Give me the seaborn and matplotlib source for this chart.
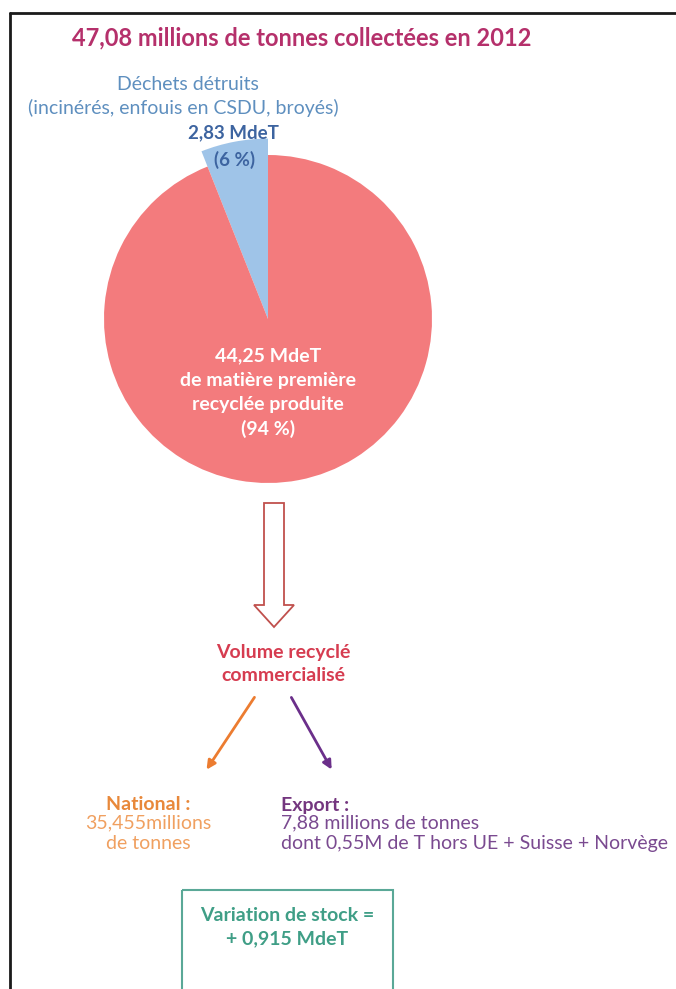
import numpy as np
import pandas as pd
import seaborn as sns
import matplotlib.pyplot as plt
from matplotlib.patches import FancyArrow, Rectangle

# données (millions de tonnes)
parts = ['Déchets détruits', 'Matière première recyclée']
tonnes = [2.83, 44.25]
pourcents = [6, 94]
total = 47.08
annee = 2012
national = 35.455
export = 7.88
hors_ue = 0.55
stock = 0.915

sns.set_theme(style='white')
plt.rcParams['font.family'] = ['Lato', 'DejaVu Sans']

W, H = 676, 989
fig = plt.figure(figsize=(W / 100, H / 100), dpi=100)

fmt = lambda v: f'{v:.2f}'.replace('.', ',')

# camembert (dessiné en premier, les textes passent par-dessus)
cx, cy, r = 268, 319, 164
S = 2.6 * r
axp = fig.add_axes([(cx - S / 2) / W, (H - cy - S / 2) / H, S / W, S / H])
wedges, _ = axp.pie(tonnes, colors=['#9fc4e8', '#f37b7d'], startangle=90,
                    counterclock=True, wedgeprops={'linewidth': 0})
wedges[0].set_radius(1.1)
axp.set_xlim(-1.3, 1.3)
axp.set_ylim(-1.3, 1.3)
axp.set_aspect('equal')
axp.axis('off')

# calque en pixels pour les textes et flèches
ax = fig.add_axes([0, 0, 1, 1])
ax.set_xlim(0, W)
ax.set_ylim(H, 0)
ax.axis('off')

# cadre noir (haut et gauche)
ax.plot([10, W], [13, 13], color='#1a1a1a', lw=2)
ax.plot([10, 10], [13, H], color='#1a1a1a', lw=2)

ax.text(302, 38, f'{fmt(total)} millions de tonnes collectées en {annee}',
        ha='center', va='center', fontsize=17, fontweight='bold', color='#b5306b')
ax.text(188, 85, 'Déchets détruits', ha='center', va='center', fontsize=14, color='#5e8fbf')
ax.text(183, 108, '(incinérés, enfouis en CSDU, broyés)', ha='center', va='center',
        fontsize=14, color='#5e8fbf')
ax.text(233, 133, f'{fmt(tonnes[0])} MdeT', ha='center', va='center', fontsize=13.5,
        fontweight='bold', color='#3d64a0')
ax.text(235, 160, f'({pourcents[0]} %)', ha='center', va='center', fontsize=13.5,
        fontweight='bold', color='#3d64a0')

ax.text(cx, 393, f'{fmt(tonnes[1])} MdeT\nde matière première\nrecyclée produite\n({pourcents[1]} %)',
        ha='center', va='center', fontsize=14, fontweight='bold', color='white',
        linespacing=1.5)

# grosse flèche creuse
ax.add_patch(FancyArrow(274, 503, 0, 124, width=20, head_width=40, head_length=22,
                        length_includes_head=True, fc='white', ec='#c0504d', lw=1.3))

ax.text(283, 664, 'Volume recyclé\ncommercialisé', ha='center', va='center',
        fontsize=14, fontweight='bold', color='#d63c50', linespacing=1.45)

ax.annotate('', xy=(205, 772), xytext=(256, 695),
            arrowprops=dict(arrowstyle='-|>', color='#ec7c30', lw=2, mutation_scale=13))
ax.annotate('', xy=(333, 772), xytext=(290, 695),
            arrowprops=dict(arrowstyle='-|>', color='#6b2f8a', lw=2, mutation_scale=13))

ax.text(148, 805, 'National :', ha='center', va='center', fontsize=14,
        fontweight='bold', color='#e8883a')
ax.text(148, 833, f'{str(national).replace(".", ",")}millions\nde tonnes', ha='center',
        va='center', fontsize=14, color='#f0a060', linespacing=1.25)

ax.text(281, 805, 'Export :', ha='left', va='center', fontsize=14,
        fontweight='bold', color='#74367f')
ax.text(281, 833, f'{fmt(export)} millions de tonnes\n'
        f'dont {fmt(hors_ue)}M de T hors UE + Suisse + Norvège',
        ha='left', va='center', fontsize=14, color='#7a4a90', linespacing=1.25)

ax.add_patch(Rectangle((182, 890), 211, 120, fill=False, ec='#5aa897', lw=1.5))
ax.text(287, 927, f'Variation de stock =\n+ {str(stock).replace(".", ",")} MdeT',
        ha='center', va='center', fontsize=14, fontweight='bold', color='#3f9e86',
        linespacing=1.45)

fig.savefig('out.png', dpi=100)
